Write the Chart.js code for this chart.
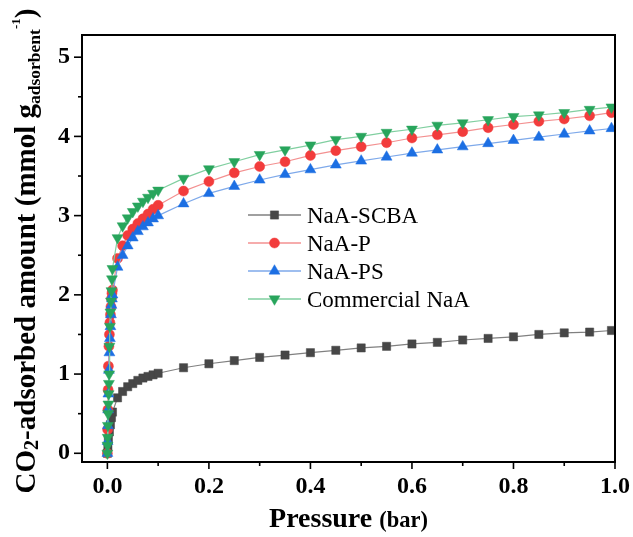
<!DOCTYPE html>
<html>
<head>
<meta charset="utf-8">
<script src="https://cdn.jsdelivr.net/npm/chart.js@4/dist/chart.umd.min.js"></script>
<style>
  html, body { margin: 0; padding: 0; background: #fff; overflow: hidden; }
  canvas { display: block; }
</style>
</head>
<body>
<canvas id="c" width="633" height="537"></canvas>
<script>
// ---- Data ----
const seriesNames = ['NaA-SCBA', 'NaA-P', 'NaA-PS', 'Commercial NaA'];

// common pressures (bar) above 0.01 bar
const pressureHigh = [0.02, 0.03, 0.04, 0.05, 0.06, 0.07, 0.08, 0.09, 0.10,
  0.15, 0.20, 0.25, 0.30, 0.35, 0.40, 0.45, 0.50, 0.55, 0.60, 0.65, 0.70,
  0.75, 0.80, 0.85, 0.90, 0.95, 0.993];

// low-pressure points (<= 0.01 bar), per series
const scbaLowP = [0, 0.001, 0.002, 0.004, 0.006, 0.008, 0.010];
const scbaLowQ = [0, 0.08, 0.17, 0.27, 0.36, 0.45, 0.52];
const pLowP = [0, 0.0005, 0.001, 0.0015, 0.002, 0.003, 0.004, 0.005, 0.006, 0.007, 0.008, 0.009, 0.010];
const pLowQ = [0, 0.30, 0.55, 0.80, 1.10, 1.35, 1.50, 1.65, 1.75, 1.85, 1.95, 2.02, 2.06];
const psLowP = [0, 0.0005, 0.001, 0.0015, 0.002, 0.003, 0.004, 0.005, 0.006, 0.007, 0.008, 0.009, 0.010];
const psLowQ = [0, 0.15, 0.35, 0.55, 0.75, 1.05, 1.27, 1.45, 1.60, 1.75, 1.87, 1.95, 2.00];
const comLowP = [0, 0.0003, 0.0006, 0.001, 0.0015, 0.002, 0.0025, 0.003, 0.0035, 0.004, 0.005, 0.006, 0.007, 0.008, 0.009, 0.010];
const comLowQ = [0, 0.10, 0.20, 0.35, 0.50, 0.62, 0.75, 0.88, 1.00, 1.35, 1.60, 1.78, 1.92, 2.05, 2.20, 2.33];

// uptake (mmol/g) at pressureHigh
const scbaHighQ = [0.70, 0.78, 0.84, 0.88, 0.92, 0.95, 0.97, 0.99, 1.01,
  1.08, 1.13, 1.17, 1.21, 1.24, 1.27, 1.30, 1.33, 1.35, 1.38, 1.40, 1.43,
  1.45, 1.47, 1.50, 1.52, 1.53, 1.55];
const pHighQ = [2.46, 2.62, 2.75, 2.83, 2.90, 2.96, 3.02, 3.08, 3.13,
  3.31, 3.43, 3.54, 3.62, 3.68, 3.76, 3.82, 3.87, 3.92, 3.98, 4.02, 4.06,
  4.11, 4.15, 4.19, 4.22, 4.26, 4.30];
const psHighQ = [2.35, 2.50, 2.62, 2.72, 2.80, 2.86, 2.91, 2.96, 3.00,
  3.15, 3.28, 3.37, 3.45, 3.52, 3.58, 3.64, 3.69, 3.74, 3.79, 3.83, 3.87,
  3.91, 3.95, 3.99, 4.03, 4.07, 4.10];
const comHighQ = [2.72, 2.87, 2.97, 3.05, 3.12, 3.18, 3.23, 3.28, 3.32,
  3.47, 3.59, 3.68, 3.77, 3.83, 3.89, 3.96, 4.00, 4.05, 4.09, 4.14, 4.17,
  4.21, 4.25, 4.27, 4.30, 4.34, 4.37];

const xTickValues = [0, 0.2, 0.4, 0.6, 0.8, 1.0];
const yTickValues = [0, 1, 2, 3, 4, 5];

// ---- build datasets ----
function pts(lowP, lowQ, highQ) {
  const a = lowP.map((p, i) => ({ x: p, y: lowQ[i] }));
  return a.concat(pressureHigh.map((p, i) => ({ x: p, y: highQ[i] })));
}

const styles = [
  { marker: '#474747', line: '#808080', pointStyle: 'rect', radius: 5.8, rot: 0, order: 3 },
  { marker: '#f23c3c', line: '#f39090', pointStyle: 'circle', radius: 5, rot: 0, order: 2 },
  { marker: '#1c6fe3', line: '#7ea9ea', pointStyle: 'triangle', radius: 6.3, rot: 0, order: 1 },
  { marker: '#28a55c', line: '#80cfa0', pointStyle: 'triangle', radius: 6.3, rot: 180, order: 0 }
];
const dataList = [
  pts(scbaLowP, scbaLowQ, scbaHighQ),
  pts(pLowP, pLowQ, pHighQ),
  pts(psLowP, psLowQ, psHighQ),
  pts(comLowP, comLowQ, comHighQ)
];

const datasets = dataList.map((d, i) => ({
  label: seriesNames[i],
  data: d,
  borderColor: styles[i].line,
  borderWidth: 1.2,
  backgroundColor: styles[i].marker,
  pointBackgroundColor: styles[i].marker,
  pointBorderColor: styles[i].marker,
  pointBorderWidth: 0.5,
  pointStyle: styles[i].pointStyle,
  pointRadius: styles[i].radius,
  pointRotation: styles[i].rot,
  tension: 0,
  order: styles[i].order
}));

const SERIF = "'Liberation Serif', 'Times New Roman', serif";

const decorPlugin = {
  id: 'decor',
  afterDraw(chart) {
    const { ctx, chartArea: a, scales: { x, y } } = chart;
    ctx.save();
    // frame
    ctx.strokeStyle = '#000';
    ctx.lineWidth = 2;
    ctx.strokeRect(a.left, a.top, a.right - a.left, a.bottom - a.top);
    // ticks (outward, major + minor)
    ctx.lineWidth = 1.6;
    x.ticks.forEach((t, i) => {
      const px = x.getPixelForTick(i);
      const major = Math.round(t.value * 10) % 2 === 0;
      const len = major ? 7 : 4;
      ctx.beginPath(); ctx.moveTo(px, a.bottom); ctx.lineTo(px, a.bottom + len); ctx.stroke();
    });
    y.ticks.forEach((t, i) => {
      const py = y.getPixelForTick(i);
      const major = Math.abs(t.value - Math.round(t.value)) < 1e-6;
      const len = major ? 8 : 4;
      ctx.beginPath(); ctx.moveTo(a.left, py); ctx.lineTo(a.left - len, py); ctx.stroke();
    });

    // legend
    const lgX0 = 248, lgX1 = 301, lgText = 307;
    const lgY = [215, 243, 271, 299];
    chart.data.datasets.forEach((ds, i) => {
      const yy = lgY[i];
      ctx.strokeStyle = ds.borderColor;
      ctx.lineWidth = 1.6;
      ctx.beginPath(); ctx.moveTo(lgX0, yy); ctx.lineTo(lgX1, yy); ctx.stroke();
      ctx.fillStyle = ds.pointBackgroundColor;
      ctx.strokeStyle = ds.pointBorderColor;
      ctx.lineWidth = 0.5;
      Chart.helpers.drawPoint(ctx, {
        pointStyle: ds.pointStyle, radius: ds.pointRadius, rotation: ds.pointRotation, borderWidth: 0.5
      }, (lgX0 + lgX1) / 2, yy);
      ctx.fillStyle = '#000';
      ctx.font = `23px ${SERIF}`;
      ctx.textAlign = 'left';
      ctx.textBaseline = 'alphabetic';
      ctx.fillText(ds.label, lgText, yy + 7.6);
    });

    // x-axis title: "Pressure (bar)"
    ctx.fillStyle = '#000';
    ctx.textBaseline = 'alphabetic';
    const f1 = `bold 28px ${SERIF}`, f2 = `bold 22.5px ${SERIF}`;
    ctx.font = f1; const w1 = ctx.measureText('Pressure ').width;
    ctx.font = f2; const w2 = ctx.measureText('(bar)').width;
    let sx = (a.left + a.right) / 2 - (w1 + w2) / 2;
    const by = 527;
    ctx.textAlign = 'left';
    ctx.font = f1; ctx.fillText('Pressure ', sx, by);
    ctx.font = f2; ctx.fillText('(bar)', sx + w1, by);

    // y-axis title (rotated, with sub/superscripts)
    const parts = [
      { t: 'CO', f: `bold 29px ${SERIF}`, dy: 0 },
      { t: '2', f: `bold 20px ${SERIF}`, dy: 2.5 },
      { t: '-adsorbed amount (mmol g', f: `bold 29px ${SERIF}`, dy: 0 },
      { t: 'adsorbent', f: `bold 17.5px ${SERIF}`, dy: 5 },
      { t: '-1', f: `bold 13px ${SERIF}`, dy: -15 },
      { t: ')', f: `bold 29px ${SERIF}`, dy: 0 }
    ];
    let total = 0;
    parts.forEach(p => { ctx.font = p.f; p.w = ctx.measureText(p.t).width; total += p.w; });
    ctx.translate(35, 251);
    ctx.rotate(-Math.PI / 2);
    let cx = -total / 2;
    parts.forEach(p => { ctx.font = p.f; ctx.fillText(p.t, cx, p.dy); cx += p.w; });
    ctx.restore();
  }
};

new Chart(document.getElementById('c'), {
  type: 'line',
  data: { datasets },
  options: {
    responsive: false,
    animation: false,
    layout: { padding: { left: 0, top: 35, right: 18, bottom: 0 } },
    plugins: { legend: { display: false }, tooltip: { enabled: false } },
    scales: {
      x: {
        type: 'linear',
        min: -0.05, max: 1.0,
        border: { display: false },
        grid: { display: true, drawOnChartArea: false, drawTicks: true, tickLength: 7, tickColor: 'rgba(0,0,0,0)' },
        ticks: {
          stepSize: 0.1, includeBounds: false, autoSkip: false, maxRotation: 0, padding: 3,
          color: '#000', font: { family: SERIF, size: 24, weight: 'bold' },
          callback: (v) => {
            const k = Math.round(v * 10);
            const val = k / 10;
            return xTickValues.some(t => Math.abs(t - val) < 1e-6) ? val.toFixed(1) : '';
          }
        },
        afterFit: (s) => { s.height = 75; }
      },
      y: {
        type: 'linear',
        min: -0.11, max: 5.28,
        border: { display: false },
        grid: { display: true, drawOnChartArea: false, drawTicks: true, tickLength: 8, tickColor: 'rgba(0,0,0,0)' },
        ticks: {
          stepSize: 0.5, includeBounds: false, autoSkip: false, padding: 4,
          color: '#000', font: { family: SERIF, size: 24, weight: 'bold' },
          callback: (v) => yTickValues.some(t => Math.abs(t - v) < 1e-6) ? String(Math.round(v)) : ''
        },
        afterFit: (s) => { s.width = 82; }
      }
    }
  },
  plugins: [decorPlugin]
});
</script>
</body>
</html>
